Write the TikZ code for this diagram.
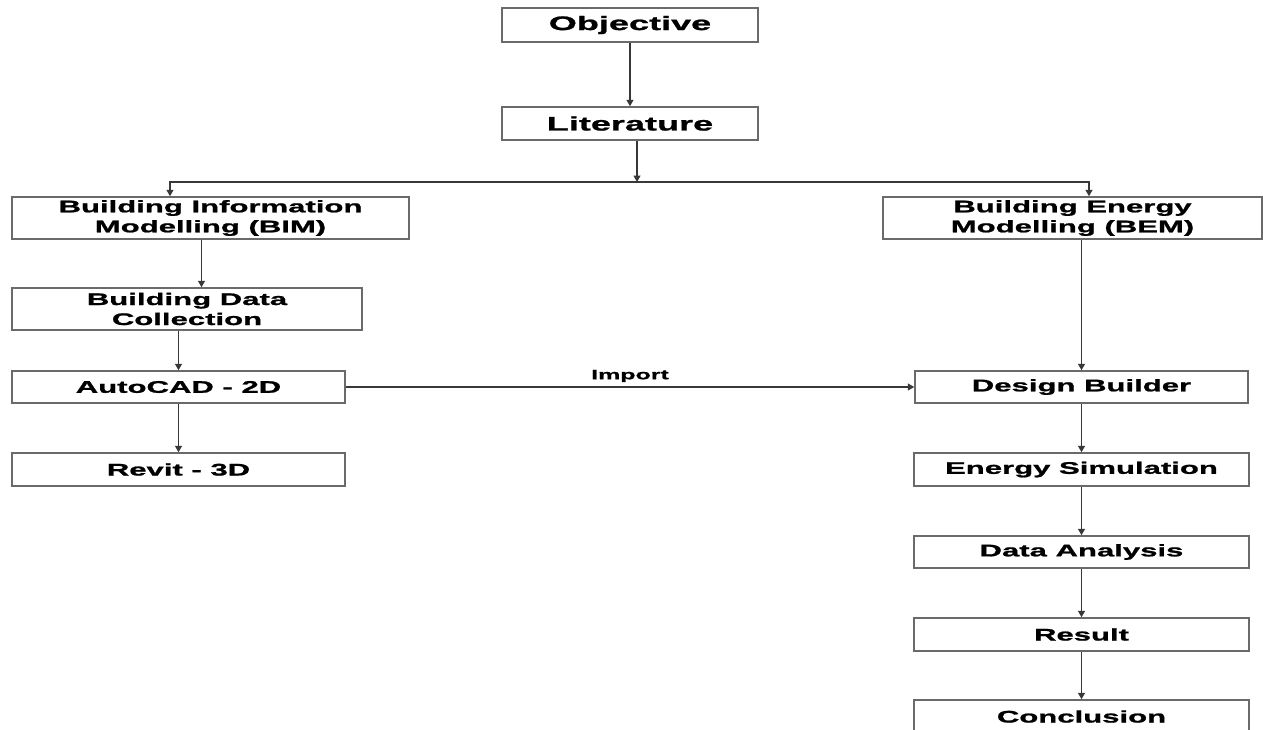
\documentclass[tikz,border=0pt]{standalone}
\usepackage{fontspec}
\setmainfont{Liberation Sans}
\newfontfamily\hv[FakeStretch=1.85,BoldFeatures={FakeBold=1.2}]{Liberation Sans}
\usetikzlibrary{arrows.meta}
\definecolor{boxgray}{HTML}{6A6A6A}
\definecolor{linegray}{HTML}{383838}
\begin{document}
\begin{tikzpicture}[x=1pt,y=-1pt,
  box/.style={draw=boxgray,line width=1.5pt,fill=white,inner sep=0pt,align=center,
    font=\hv\bfseries\fontsize{16.8}{20}\selectfont},
  bigbox/.style={box,font=\hv\bfseries\fontsize{19.5}{22}\selectfont},
  arr/.style={draw=linegray,line width=1.4pt,-{Triangle[width=7pt,length=6.5pt]}},
  ln/.style={draw=linegray,line width=1.4pt}]
\useasboundingbox (0,0) rectangle (1263,729);
\clip (0,0) rectangle (1263,729);
\fill[white] (0,0) rectangle (1263,729);

\node[bigbox,minimum width=256pt,minimum height=34pt] (obj) at (630,25) {Objective};
\node[bigbox,minimum width=256pt,minimum height=33pt] (lit) at (630,123.5) {Literature};
\node[box,minimum width=397pt,minimum height=42pt] (bim) at (210.5,218) {Building Information\\Modelling (BIM)};
\node[box,minimum width=379pt,minimum height=42pt] (bem) at (1072.5,218) {Building Energy\\Modelling (BEM)};
\node[box,minimum width=350pt,minimum height=42pt] (bdc) at (187,309) {Building Data\\Collection};
\node[box,minimum width=333pt,minimum height=32pt] (cad) at (178.5,387) {AutoCAD - 2D};
\node[box,minimum width=333pt,minimum height=33pt] (rev) at (178.5,469.5) {Revit - 3D};
\node[box,minimum width=333pt,minimum height=32pt] (db) at (1081.5,387) {Design Builder};
\node[box,minimum width=335pt,minimum height=33pt] (es) at (1081.5,469.5) {Energy Simulation};
\node[box,minimum width=335pt,minimum height=32pt] (da) at (1081.5,552) {Data Analysis};
\node[box,minimum width=335pt,minimum height=33pt] (res) at (1081.5,634.5) {Result};
\node[box,minimum width=335pt,minimum height=33pt] (con) at (1081.5,716.5) {Conclusion};

\coordinate (j) at (637,182);
\draw[arr] (obj) -- (lit);
\draw[arr] (lit.south -| j) -- (j);
\draw[arr] (j) -| ([xshift=-40.5pt]bim.north);
\draw[arr] (j) -| ([xshift=16.5pt]bem.north);
\draw[arr] ([xshift=-9pt]bim.south) -- ([xshift=-9pt]bim.south |- bdc.north);
\draw[arr] (bdc.south -| cad) -- (cad);
\draw[arr] (cad) -- (rev);
\draw[arr] (bem.south -| db) -- (db);
\draw[arr] (cad) -- node[above=1pt,font=\hv\bfseries\fontsize{13.5}{16}\selectfont] {Import} (db);
\draw[arr] (db) -- (es);
\draw[arr] (es) -- (da);
\draw[arr] (da) -- (res);
\draw[arr] (res) -- (con);
\end{tikzpicture}
\end{document}
